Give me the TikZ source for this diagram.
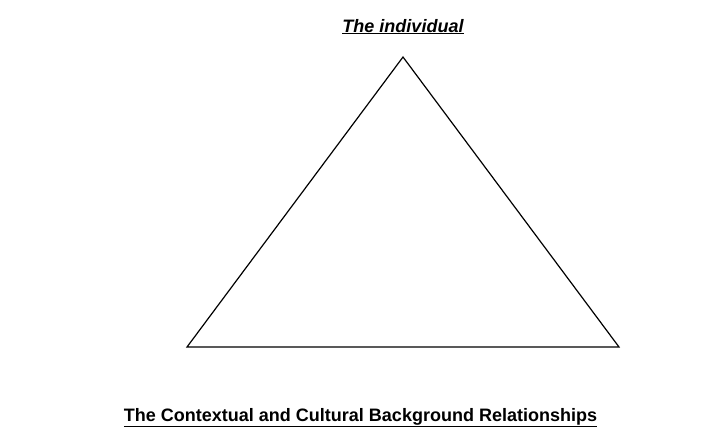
\documentclass[tikz,border=0pt]{standalone}
\usepackage{fontspec}
\setmainfont{Liberation Sans}
\begin{document}
\begin{tikzpicture}[x=1pt, y=-1pt, font=\fontsize{18}{21}\selectfont\bfseries,
    caption/.style={inner sep=0pt, anchor=base}]
    \useasboundingbox (0,0) rectangle (715,437);
    \node[caption] (individual) at (403,32) {\underline{\itshape The individual}};
    \node[caption] (context) at (360.5,421) {\underline{The Contextual and Cultural Background Relationships}};

    \coordinate (apex) at (403,57);
    \coordinate (left) at (187,347);
    \coordinate (right) at (619,347);
    \draw[line width=1.2pt, line join=miter] (apex) -- (right) -- (left) -- cycle;
\end{tikzpicture}
\end{document}
